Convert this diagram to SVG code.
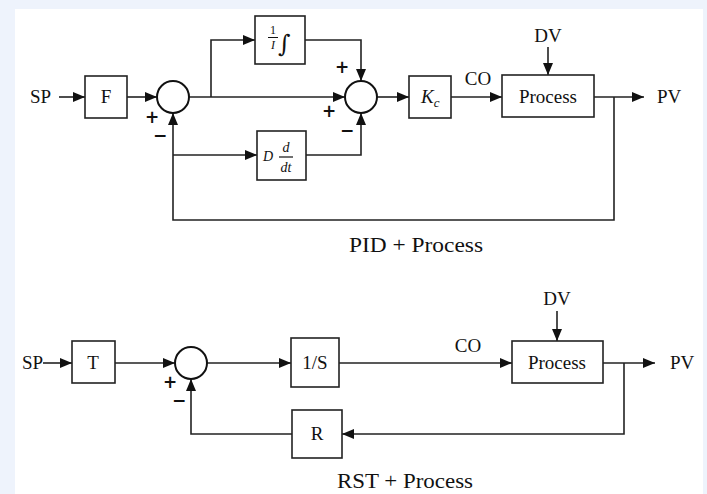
<svg xmlns="http://www.w3.org/2000/svg" width="707" height="494" viewBox="0 0 707 494">
<style>
.bx{fill:#fff;stroke:#222;stroke-width:1.6}
.sm{fill:#fff;stroke:#111;stroke-width:2}
.ln{fill:none;stroke:#222;stroke-width:1.6}
.t{font-family:"Liberation Serif",serif;font-size:19px;fill:#111}
.c{text-anchor:middle}
.i{font-style:italic}
.pm{font-family:"DejaVu Sans",sans-serif;font-size:17px;font-weight:bold;fill:#111;text-anchor:middle}
.cap{font-family:"Liberation Serif",serif;font-size:22px;fill:#111}
</style>
<defs>
<marker id="ah" markerUnits="userSpaceOnUse" markerWidth="12" markerHeight="10" refX="12" refY="5" orient="auto">
<path d="M0,0 L12,5 L0,10 z" fill="#111"/>
</marker>
</defs>
<rect x="0" y="0" width="707" height="494" fill="#eef3fc"/>
<rect x="15" y="9" width="688" height="485" fill="#fff"/>

<g id="connectors">
<path class="ln" d="M59,97 H85" marker-end="url(#ah)"/>
<path class="ln" d="M127,97 H157" marker-end="url(#ah)"/>
<path class="ln" d="M189,97 H345" marker-end="url(#ah)"/>
<path class="ln" d="M211,97 V40 H255" marker-end="url(#ah)"/>
<path class="ln" d="M305,40 H361 V81" marker-end="url(#ah)"/>
<path class="ln" d="M173,155 H257" marker-end="url(#ah)"/>
<path class="ln" d="M306,155 H361 V113" marker-end="url(#ah)"/>
<path class="ln" d="M377,97 H409" marker-end="url(#ah)"/>
<path class="ln" d="M451,97 H502" marker-end="url(#ah)"/>
<path class="ln" d="M548,47 V75" marker-end="url(#ah)"/>
<path class="ln" d="M594,97 H644" marker-end="url(#ah)"/>
<path class="ln" d="M614,97 V220 H173 V113" marker-end="url(#ah)"/>

<path class="ln" d="M43,363 H72" marker-end="url(#ah)"/>
<path class="ln" d="M115,363 H175" marker-end="url(#ah)"/>
<path class="ln" d="M207,363 H291" marker-end="url(#ah)"/>
<path class="ln" d="M339,363 H512" marker-end="url(#ah)"/>
<path class="ln" d="M557,311 V341" marker-end="url(#ah)"/>
<path class="ln" d="M603,363 H655" marker-end="url(#ah)"/>
<path class="ln" d="M624,363 V434 H342" marker-end="url(#ah)"/>
<path class="ln" d="M292,434 H191 V379" marker-end="url(#ah)"/>
</g>

<g id="labels-top">
<text class="t" x="30" y="103">SP</text>
<text class="t c" x="548" y="42">DV</text>
<text class="t c" x="478" y="85">CO</text>
<text class="t" x="657" y="103">PV</text>
<text class="pm" x="152" y="123">+</text>
<text class="pm" x="160" y="141">−</text>
<text class="pm" x="342" y="73">+</text>
<text class="pm" x="329" y="117">+</text>
<text class="pm" x="347" y="136">−</text>
<text class="cap" x="349" y="252" textLength="134" lengthAdjust="spacingAndGlyphs">PID + Process</text>
</g>

<g id="F"><rect class="bx" x="85" y="76" width="42" height="42"/><text class="t c" x="106" y="103">F</text></g>
<g id="sum1"><circle class="sm" cx="173" cy="97" r="16"/></g>
<g id="I">
<rect class="bx" x="255" y="16" width="50" height="48"/>
<text class="t c" x="273" y="34" style="font-size:12px">1</text>
<line x1="268" y1="37.5" x2="278" y2="37.5" stroke="#111" stroke-width="1"/>
<text class="t c i" x="273" y="49" style="font-size:12px">I</text>
<text class="t" x="278" y="52" style="font-size:24px;font-family:'DejaVu Serif',serif">∫</text>
</g>
<g id="D">
<rect class="bx" x="257" y="131" width="49" height="49"/>
<text class="t i" x="263" y="161" style="font-size:14px">D</text>
<text class="t c i" x="286" y="152" style="font-size:14px">d</text>
<line x1="279" y1="157" x2="293" y2="157" stroke="#111" stroke-width="1.2"/>
<text class="t c i" x="286" y="172" style="font-size:14px">dt</text>
</g>
<g id="sum2"><circle class="sm" cx="361" cy="97" r="16"/></g>
<g id="Kc">
<rect class="bx" x="409" y="76" width="42" height="42"/>
<text class="t i" x="421" y="103" style="font-size:19px">K<tspan style="font-size:13px" dy="4">c</tspan></text>
</g>
<g id="Process1"><rect class="bx" x="502" y="75" width="92" height="42"/><text class="t c" x="548" y="103">Process</text></g>

<g id="labels-bottom">
<text class="t" x="22" y="369">SP</text>
<text class="t c" x="468" y="352">CO</text>
<text class="t c" x="557" y="305">DV</text>
<text class="t" x="670" y="369">PV</text>
<text class="pm" x="170" y="388">+</text>
<text class="pm" x="179" y="406">−</text>
<text class="cap" x="337" y="488" textLength="136" lengthAdjust="spacingAndGlyphs">RST + Process</text>
</g>

<g id="T"><rect class="bx" x="72" y="341" width="43" height="42"/><text class="t c" x="93" y="369">T</text></g>
<g id="sum3"><circle class="sm" cx="191" cy="363" r="16"/></g>
<g id="S"><rect class="bx" x="291" y="338" width="48" height="49"/><text class="t c" x="315" y="369">1/S</text></g>
<g id="Process2"><rect class="bx" x="512" y="341" width="91" height="42"/><text class="t c" x="557" y="369">Process</text></g>
<g id="R"><rect class="bx" x="292" y="410" width="50" height="48"/><text class="t c" x="317" y="440">R</text></g>
</svg>
